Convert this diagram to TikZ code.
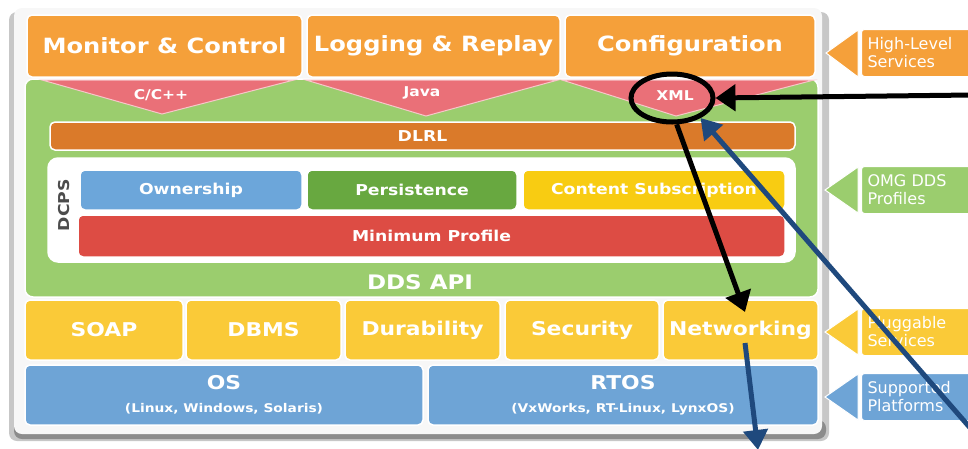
\documentclass[tikz,border=0pt]{standalone}
\usepackage{fontspec}
\setmainfont{DejaVu Sans}
\newfontfamily\boxfont{DejaVu Sans}[FakeStretch=1.15]
\usetikzlibrary{arrows.meta}
\usetikzlibrary{shapes.geometric}

\definecolor{hlorange}{RGB}{245,160,58}
\definecolor{apigreen}{RGB}{155,205,110}
\definecolor{langred}{RGB}{234,112,120}
\definecolor{dlrlorange}{RGB}{218,122,42}
\definecolor{ownblue}{RGB}{108,166,218}
\definecolor{persgreen}{RGB}{104,168,64}
\definecolor{subyellow}{RGB}{248,204,18}
\definecolor{minred}{RGB}{221,76,68}
\definecolor{plugyellow}{RGB}{250,202,56}
\definecolor{platblue}{RGB}{110,164,214}
\definecolor{annblue}{RGB}{31,73,125}

\tikzset{
  blk/.style={rounded corners=5pt, draw=white, line width=1.5pt, inner sep=0pt,
    text=white, font=\boxfont\bfseries\fontsize{19}{22}\selectfont},
  topblk/.style={blk, font=\boxfont\bfseries\fontsize{21}{24}\selectfont},
  midblk/.style={blk, font=\boxfont\bfseries\fontsize{15}{17}\selectfont},
  langlbl/.style={text=white, inner sep=1pt, font=\boxfont\bfseries\fontsize{13.5}{15}\selectfont},
  tagbox/.style={rounded corners=3pt, draw=white, line width=1pt, inner xsep=6pt,
    text width=108pt, minimum height=47pt, align=left, text=white,
    anchor=west, font=\fontsize{16}{18}\selectfont},
  tagtip/.style={draw=white, line width=1pt},
  ring/.style={draw=black, line width=5pt, ellipse, minimum width=82pt, minimum height=48pt, inner sep=0pt},
  blackarr/.style={draw=black, line width=5pt, -{Triangle[length=20pt,width=26pt]}},
  bluearr/.style={draw=annblue, line width=5pt, -{Triangle[length=20pt,width=24pt]}},
}

\begin{document}
\begin{tikzpicture}[x=1pt,y=-1pt]
  \useasboundingbox (0,0) rectangle (968,448);
  \clip (0,0) rectangle (968,448);

  % panel
  \fill[black!22, rounded corners=8pt] (9,12) rectangle (829,441);
  \fill[black!45, rounded corners=8pt] (14,420) rectangle (826,439);
  \fill[black!3, rounded corners=8pt] (14,8) rectangle (822,434);

  % DDS API layer
  \node[blk, fill=apigreen, rounded corners=8pt, minimum width=793pt, minimum height=218pt] (api) at (421.5,188) {};
  \node[text=white, font=\boxfont\bfseries\fontsize{20}{22}\selectfont] (apilbl) at (420,282) {DDS API};

  \fill[langred, draw=white!60!langred, line width=1pt] (42,80) -- (294,80) -- (162,114) -- cycle;
  \fill[langred, draw=white!60!langred, line width=1pt] (306,80) -- (558,80) -- (426,116) -- cycle;
  \fill[langred, draw=white!60!langred, line width=1pt] (562,80) -- (814,80) -- (676,116) -- cycle;
  \node[langlbl] (cpp) at (161,95) {C/C++};
  \node[langlbl] (java) at (422,93) {Java};
  \node[langlbl] (xml) at (675,96) {XML};

  % high-level services
  \node[topblk, fill=hlorange, minimum width=275pt, minimum height=62pt] (mon) at (164.5,46) {Monitor \& Control};
  \node[topblk, fill=hlorange, minimum width=253pt, minimum height=62pt] (logr) at (433.5,46) {Logging \& Replay};
  \node[topblk, fill=hlorange, minimum width=250pt, minimum height=62pt] (conf) at (690,46) {Configuration};

  \node[midblk, fill=dlrlorange, minimum width=745pt, minimum height=28pt] (dlrl) at (422.5,136) {DLRL};

  \node[blk, fill=white, rounded corners=10pt, minimum width=747pt, minimum height=104pt] (dcpsbox) at (421.5,210) {};
  \node[rotate=90, text=black!70, font=\boxfont\bfseries\fontsize{15}{17}\selectfont] (dcps) at (64,205) {DCPS};
  \node[midblk, fill=ownblue, minimum width=222pt, minimum height=40pt] (own) at (191,190) {Ownership};
  \node[midblk, fill=persgreen, minimum width=210pt, minimum height=40pt] (pers) at (412,190) {Persistence};
  \node[midblk, fill=subyellow, minimum width=262pt, minimum height=40pt] (csub) at (654,190) {Content Subscription};
  \node[midblk, fill=minred, minimum width=707pt, minimum height=42pt] (minp) at (431.5,236) {Minimum Profile};

  % pluggable services
  \node[blk, fill=plugyellow, minimum width=158pt, minimum height=60pt] (soap) at (104,330) {SOAP};
  \node[blk, fill=plugyellow, minimum width=155pt, minimum height=60pt] (dbms) at (263.5,330) {DBMS};
  \node[blk, fill=plugyellow, minimum width=155pt, minimum height=60pt] (dur) at (422.5,330) {Durability};
  \node[blk, fill=plugyellow, minimum width=154pt, minimum height=60pt] (sec) at (582,330) {Security};
  \node[blk, fill=plugyellow, minimum width=155pt, minimum height=60pt] (net) at (740.5,330) {Networking};

  % platforms
  \node[blk, fill=platblue, minimum width=398pt, minimum height=60pt, align=center] (os) at (224,395)
    {OS\\[1pt]{\fontsize{12}{14}\selectfont (Linux, Windows, Solaris)}};
  \node[blk, fill=platblue, minimum width=390pt, minimum height=60pt, align=center] (rtos) at (623,395)
    {RTOS\\[1pt]{\fontsize{12}{14}\selectfont (VxWorks, RT-Linux, LynxOS)}};

  % side tags
  \fill[hlorange, tagtip] (826,53) -- (858,30) -- (858,77) -- cycle;
  \node[tagbox, fill=hlorange] (hls) at (861,53) {High-Level\\Services};
  \fill[apigreen, tagtip] (825,190) -- (858,167) -- (858,213) -- cycle;
  \node[tagbox, fill=apigreen] (omg) at (861,190) {OMG DDS\\Profiles};
  \fill[plugyellow, tagtip] (825,332) -- (858,309) -- (858,355) -- cycle;
  \node[tagbox, fill=plugyellow] (plug) at (861,332) {Pluggable\\Services};
  \fill[platblue, tagtip] (825,397) -- (858,374) -- (858,420) -- cycle;
  \node[tagbox, fill=platblue] (supp) at (861,397) {Supported\\Platforms};

  % annotations
  \node[ring] (xmlring) at (672,98) {};
  \coordinate (hin) at (972,95);
  \coordinate (ntip) at (745,312);
  \coordinate (bin) at (972,430);
  \coordinate (nout) at (745,343);
  \coordinate (nend) at (758,450);
  \draw[blackarr] (hin) -- (xmlring.east);
  \draw[blackarr] (xmlring.-80) -- (ntip);
  \draw[bluearr] (bin) -- (xmlring.-35);
  \draw[bluearr] (nout) -- (nend);
\end{tikzpicture}
\end{document}
